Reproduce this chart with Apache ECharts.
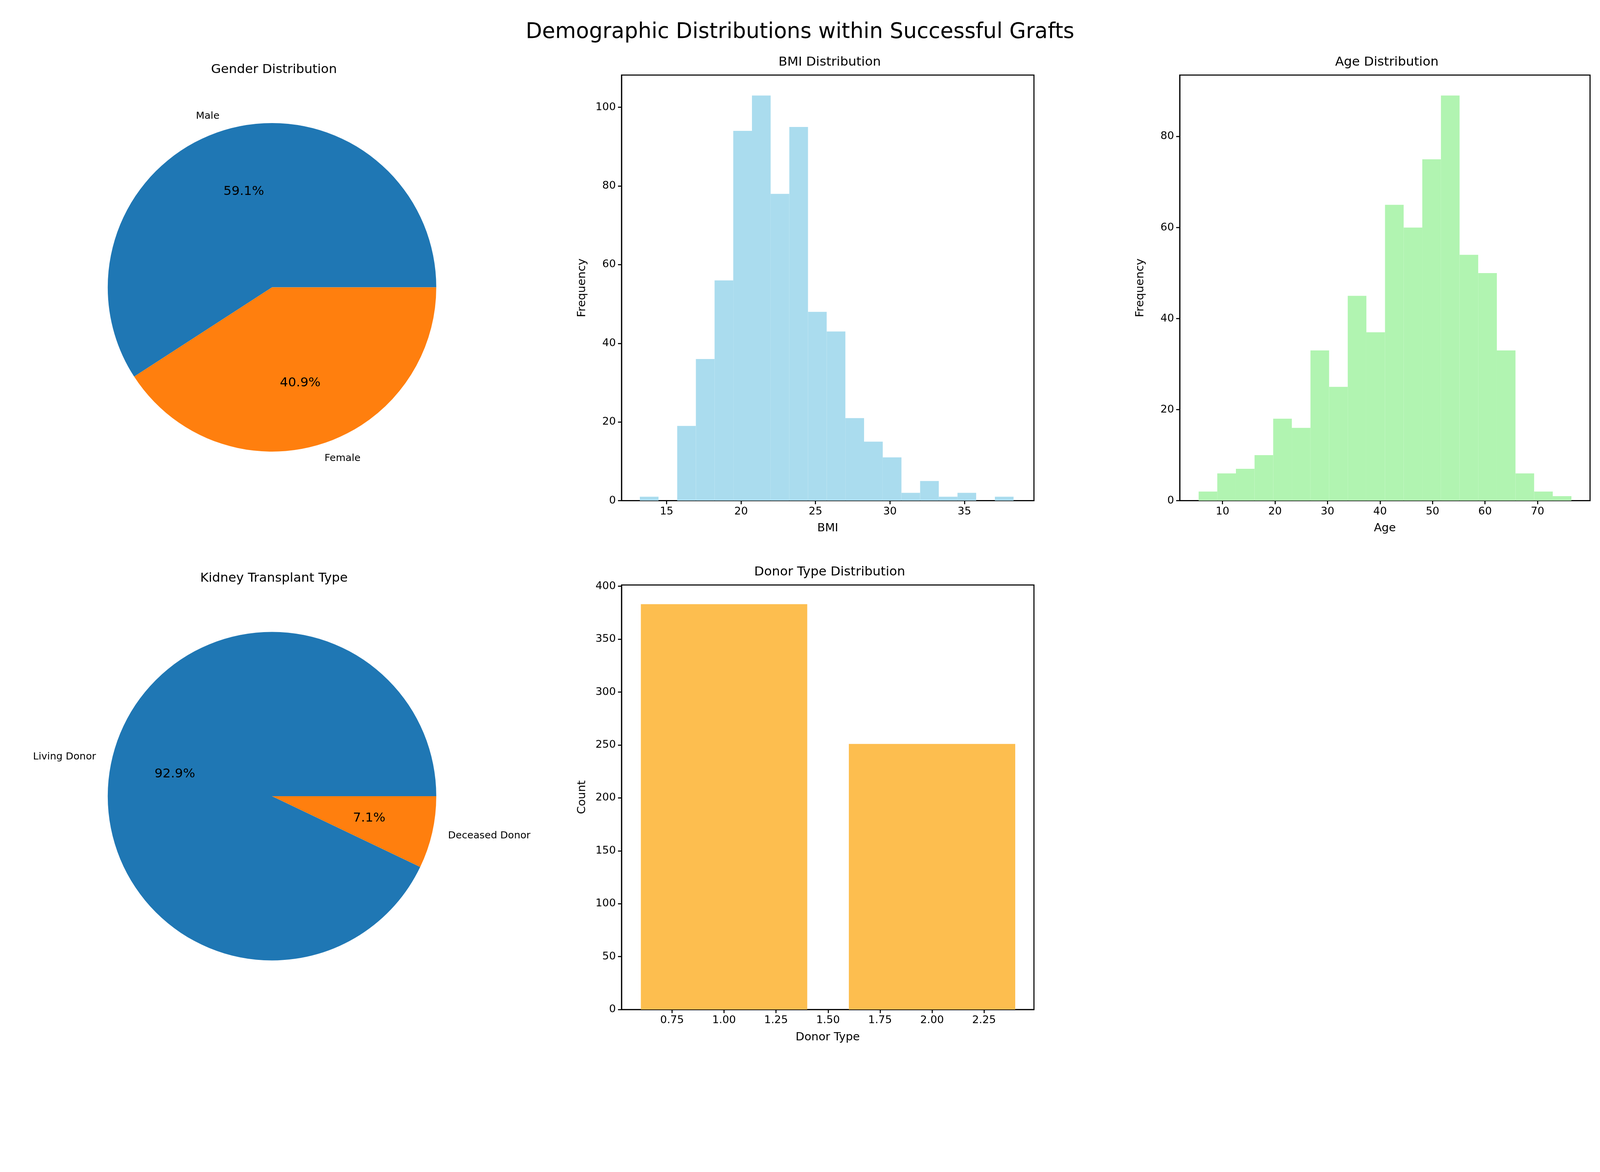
<!DOCTYPE html>
<html>
<head>
<meta charset="utf-8">
<script src="https://cdn.jsdelivr.net/npm/echarts@6/dist/echarts.min.js"></script>
<style>html,body{margin:0;background:#fff;overflow:hidden}#main{width:100vw;height:100vh}</style>
</head>
<body>
<div id="main"></div>
<script>
// 数据
var genderNames = ['Male', 'Female'];
var genderCounts = [375, 259];
var transplantNames = ['Living Donor', 'Deceased Donor'];
var transplantCounts = [589, 45];
var bmiStart = 13.2, bmiWidth = 1.255;
var bmiCounts = [1, 0, 19, 36, 56, 94, 103, 78, 95, 48, 43, 21, 15, 11, 2, 5, 1, 2, 0, 1];
var ageStart = 5.45, ageWidth = 3.55;
var ageCounts = [2, 6, 7, 10, 18, 16, 33, 25, 45, 37, 65, 60, 75, 89, 54, 50, 33, 6, 2, 1];
var donorX = [1, 2];
var donorCounts = [383, 251];

var FONT = 'DejaVu Sans';
var blue = '#1f77b4', orange = '#ff7f0e';

// 按实际窗口宽度缩放(设计稿 4500 宽)
var dom = document.getElementById('main');
var s = dom.clientWidth / 4500;
function px(v) { return v * s; }

function histData(start, w, counts) {
    return counts.map(function (c, i) { return [start + i * w, start + (i + 1) * w, c]; });
}
function rectItem(params, api) {
    var p0 = api.coord([api.value(0), api.value(2)]);
    var p1 = api.coord([api.value(1), 0]);
    return {type: 'rect', shape: {x: p0[0], y: p0[1], width: p1[0] - p0[0], height: p1[1] - p0[1]},
        style: {fill: api.visual('color')}};
}
function axisX(idx, min, max, ticks, name, fmt) {
    return {gridIndex: idx, type: 'value', min: min, max: max, name: name, nameLocation: 'middle', nameGap: px(62),
        nameTextStyle: {fontSize: px(32), color: '#000', fontFamily: FONT},
        axisLine: {onZero: false, lineStyle: {color: '#000', width: px(3)}},
        axisTick: {customValues: ticks, length: px(10), lineStyle: {color: '#000', width: px(3)}},
        axisLabel: {customValues: ticks, fontSize: px(30), color: '#000', margin: px(16), fontFamily: FONT, formatter: fmt},
        splitLine: {show: false}};
}
function axisY(idx, max, ticks, name) {
    return {gridIndex: idx, type: 'value', min: 0, max: max, name: name, nameLocation: 'middle', nameGap: px(95),
        nameTextStyle: {fontSize: px(32), color: '#000', fontFamily: FONT},
        axisLine: {show: true, lineStyle: {color: '#000', width: px(3)}},
        axisTick: {show: true, customValues: ticks, length: px(10), lineStyle: {color: '#000', width: px(3)}},
        axisLabel: {customValues: ticks, fontSize: px(30), color: '#000', margin: px(16), fontFamily: FONT},
        splitLine: {show: false}};
}
function pie(center, names, counts) {
    var data = names.map(function (n, i) { return {name: n, value: counts[i]}; });
    var c = [px(center[0]), px(center[1])];
    return [{
        type: 'pie', center: c, radius: [0, px(462)], startAngle: 0, clockwise: false, silent: true,
        color: [blue, orange],
        label: {show: true, position: 'outside', fontSize: px(28), color: '#000', fontFamily: FONT, formatter: '{b}'},
        labelLine: {show: false, length: px(40), length2: 0},
        data: data
    }, {
        type: 'pie', center: c, radius: [0, px(554)], startAngle: 0, clockwise: false, silent: true,
        itemStyle: {color: 'rgba(0,0,0,0)'},
        label: {show: true, position: 'inside', fontSize: px(36), color: '#000', fontFamily: FONT,
            formatter: function (p) { return p.percent.toFixed(1) + '%'; }},
        data: data
    }];
}

var titleStyle = {fontSize: px(36), color: '#000', fontWeight: 'normal', fontFamily: FONT};
function sub(text, x, y) {
    return {text: text, left: px(x), textAlign: 'center', top: px(y), textStyle: titleStyle};
}
var option = {
    backgroundColor: '#fff',
    animation: false,
    title: [
        {text: 'Demographic Distributions within Successful Grafts', left: 'center', top: px(55),
            textStyle: {fontSize: px(60), color: '#000', fontWeight: 'normal', fontFamily: FONT}},
        sub('Gender Distribution', 765, 172),
        sub('BMI Distribution', 2328, 152),
        sub('Age Distribution', 3895, 152),
        sub('Kidney Transplant Type', 765, 1603),
        sub('Donor Type Distribution', 2328, 1585)
    ],
    grid: [
        {left: px(1748), top: px(211), width: px(1160), height: px(1197), show: true, borderColor: '#000', borderWidth: px(3)},
        {left: px(3318), top: px(211), width: px(1154), height: px(1197), show: true, borderColor: '#000', borderWidth: px(3)},
        {left: px(1748), top: px(1645), width: px(1160), height: px(1194), show: true, borderColor: '#000', borderWidth: px(3)}
    ],
    xAxis: [
        axisX(0, 11.97, 39.67, [15, 20, 25, 30, 35], 'BMI'),
        axisX(1, 1.85, 80.0, [10, 20, 30, 40, 50, 60, 70], 'Age'),
        axisX(2, 0.507, 2.49, [0.75, 1.0, 1.25, 1.5, 1.75, 2.0, 2.25], 'Donor Type',
            function (v) { return v.toFixed(2); })
    ],
    yAxis: [
        axisY(0, 108.2, [0, 20, 40, 60, 80, 100], 'Frequency'),
        axisY(1, 93.5, [0, 20, 40, 60, 80], 'Frequency'),
        axisY(2, 401.2, [0, 50, 100, 150, 200, 250, 300, 350, 400], 'Count')
    ],
    series: [
        {type: 'custom', xAxisIndex: 0, yAxisIndex: 0, renderItem: rectItem, itemStyle: {color: '#aadcee'},
            encode: {x: [0, 1], y: 2}, data: histData(bmiStart, bmiWidth, bmiCounts)},
        {type: 'custom', xAxisIndex: 1, yAxisIndex: 1, renderItem: rectItem, itemStyle: {color: '#b1f4b1'},
            encode: {x: [0, 1], y: 2}, data: histData(ageStart, ageWidth, ageCounts)},
        {type: 'custom', xAxisIndex: 2, yAxisIndex: 2, renderItem: rectItem, itemStyle: {color: '#fdbe4f'},
            encode: {x: [0, 1], y: 2},
            data: donorX.map(function (x, i) { return [x - 0.4, x + 0.4, donorCounts[i]]; })}
    ]
        .concat(pie([765, 808], genderNames, genderCounts))
        .concat(pie([765, 2239], transplantNames, transplantCounts))
};

var myChart = echarts.init(dom);
myChart.setOption(option);
</script>
</body>
</html>
